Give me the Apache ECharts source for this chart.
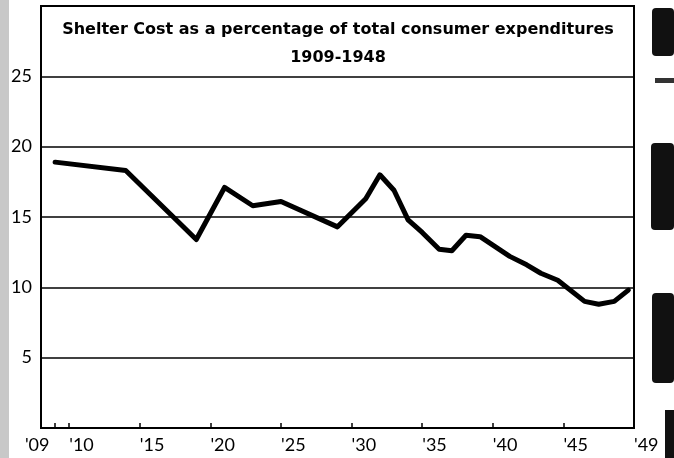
<!DOCTYPE html>
<html>
<head>
<meta charset="utf-8">
<script src="https://cdn.jsdelivr.net/npm/echarts@6/dist/echarts.min.js"></script>
<style>
  html, body { margin: 0; padding: 0; background: #fff; }
  #chart { width: 674px; height: 458px; }
</style>
</head>
<body>
<div id="chart"></div>
<script>
// Shelter cost as a share of total consumer expenditures (percent)
const years = [1909, 1914, 1919, 1921, 1923, 1925, 1929, 1931, 1932, 1933, 1934, 1935,
               1936.2, 1937.1, 1938.1, 1939.1, 1941.2, 1942.4, 1943.4, 1944.6, 1946.5,
               1947.5, 1948.6, 1949.6];
const shelterShare = [18.9, 18.3, 13.4, 17.1, 15.8, 16.1, 14.3, 16.3, 18.0, 16.9, 14.8, 13.9,
                      12.7, 12.6, 13.7, 13.6, 12.2, 11.6, 11.0, 10.5, 9.0,
                      8.8, 9.0, 9.8];

// Axis ticks and their labels
const tickYears = [1909, 1910, 1915, 1920, 1925, 1930, 1935, 1940, 1945];
const labelYears = [1910, 1915, 1920, 1925, 1930, 1935, 1940, 1945];
const tickLabels = ["'10", "'15", "'20", "'25", "'30", "'35", "'40", "'45"];
const firstLabel = "'09";
const lastLabel = "'49";
const yTicks = [5, 10, 15, 20, 25];

const titleLine = 'Shelter Cost as a percentage of total consumer expenditures';
const subtitleLine = '1909-1948';

const FONT = 'Lato, "DejaVu Sans", sans-serif';
const TITLE_FONT = '"DejaVu Sans", sans-serif';

const chart = echarts.init(document.getElementById('chart'), null, { renderer: 'canvas' });

const labelFor = {};
labelYears.forEach((y, i) => { labelFor[y] = tickLabels[i]; });

const tickText = { fontFamily: FONT, fontSize: 18, color: '#000' };

const baseX = {
  type: 'value', min: 1908, max: 1950, gridIndex: 0, position: 'bottom',
  axisLine: { show: false }, splitLine: { show: false }, axisTick: { show: false }
};

chart.setOption({
  backgroundColor: '#fff',
  animation: false,
  title: {
    text: titleLine,
    subtext: subtitleLine,
    left: 333, top: 15, textAlign: 'center',
    itemGap: 8,
    textStyle: { fontFamily: TITLE_FONT, fontWeight: 'bold', fontSize: 16, lineHeight: 20, color: '#000' },
    subtextStyle: { fontFamily: TITLE_FONT, fontWeight: 'bold', fontSize: 16, lineHeight: 20, color: '#000' }
  },
  grid: {
    left: 41, right: 40, top: 6, bottom: 30,
    show: true, borderColor: '#000', borderWidth: 2, backgroundColor: 'transparent'
  },
  xAxis: [
    Object.assign({}, baseX, {
      axisTick: { show: true, inside: true, length: 5, lineStyle: { color: '#000', width: 1.5 },
                  customValues: tickYears },
      axisLabel: Object.assign({
        customValues: labelYears, align: 'left', margin: 8,
        formatter: v => labelFor[v] || ''
      }, tickText)
    }),
    Object.assign({}, baseX, {
      axisLabel: Object.assign({
        customValues: [1908.6], align: 'right', margin: 8,
        formatter: () => firstLabel
      }, tickText)
    }),
    Object.assign({}, baseX, {
      axisLabel: Object.assign({
        customValues: [1950], align: 'left', margin: 8,
        formatter: () => lastLabel
      }, tickText)
    })
  ],
  yAxis: {
    type: 'value', min: 0, max: 30, interval: 5,
    axisLine: { show: false }, axisTick: { show: false },
    splitLine: { show: true, lineStyle: { color: '#000', width: 1.5 } },
    axisLabel: Object.assign({
      customValues: yTicks, margin: 9, padding: [0, 0, 10, 0]
    }, tickText)
  },
  series: [{
    type: 'line',
    xAxisIndex: 0,
    data: years.map((y, i) => [y, shelterShare[i]]),
    symbol: 'none',
    lineStyle: { color: '#000', width: 5, cap: 'round', join: 'round' }
  }],
  // page edge marks
  graphic: [
    { type: 'rect', shape: { x: 0, y: 0, width: 9, height: 458 }, style: { fill: '#c8c8c8' }, silent: true },
    { type: 'rect', shape: { x: 652, y: 8, width: 22, height: 48, r: 4 }, style: { fill: '#111' }, silent: true },
    { type: 'rect', shape: { x: 655, y: 78, width: 19, height: 5 }, style: { fill: '#333' }, silent: true },
    { type: 'rect', shape: { x: 651, y: 143, width: 23, height: 87, r: 4 }, style: { fill: '#111' }, silent: true },
    { type: 'rect', shape: { x: 652, y: 293, width: 22, height: 90, r: 4 }, style: { fill: '#111' }, silent: true },
    { type: 'rect', shape: { x: 665, y: 410, width: 9, height: 48 }, style: { fill: '#111' }, silent: true }
  ]
});
</script>
</body>
</html>
